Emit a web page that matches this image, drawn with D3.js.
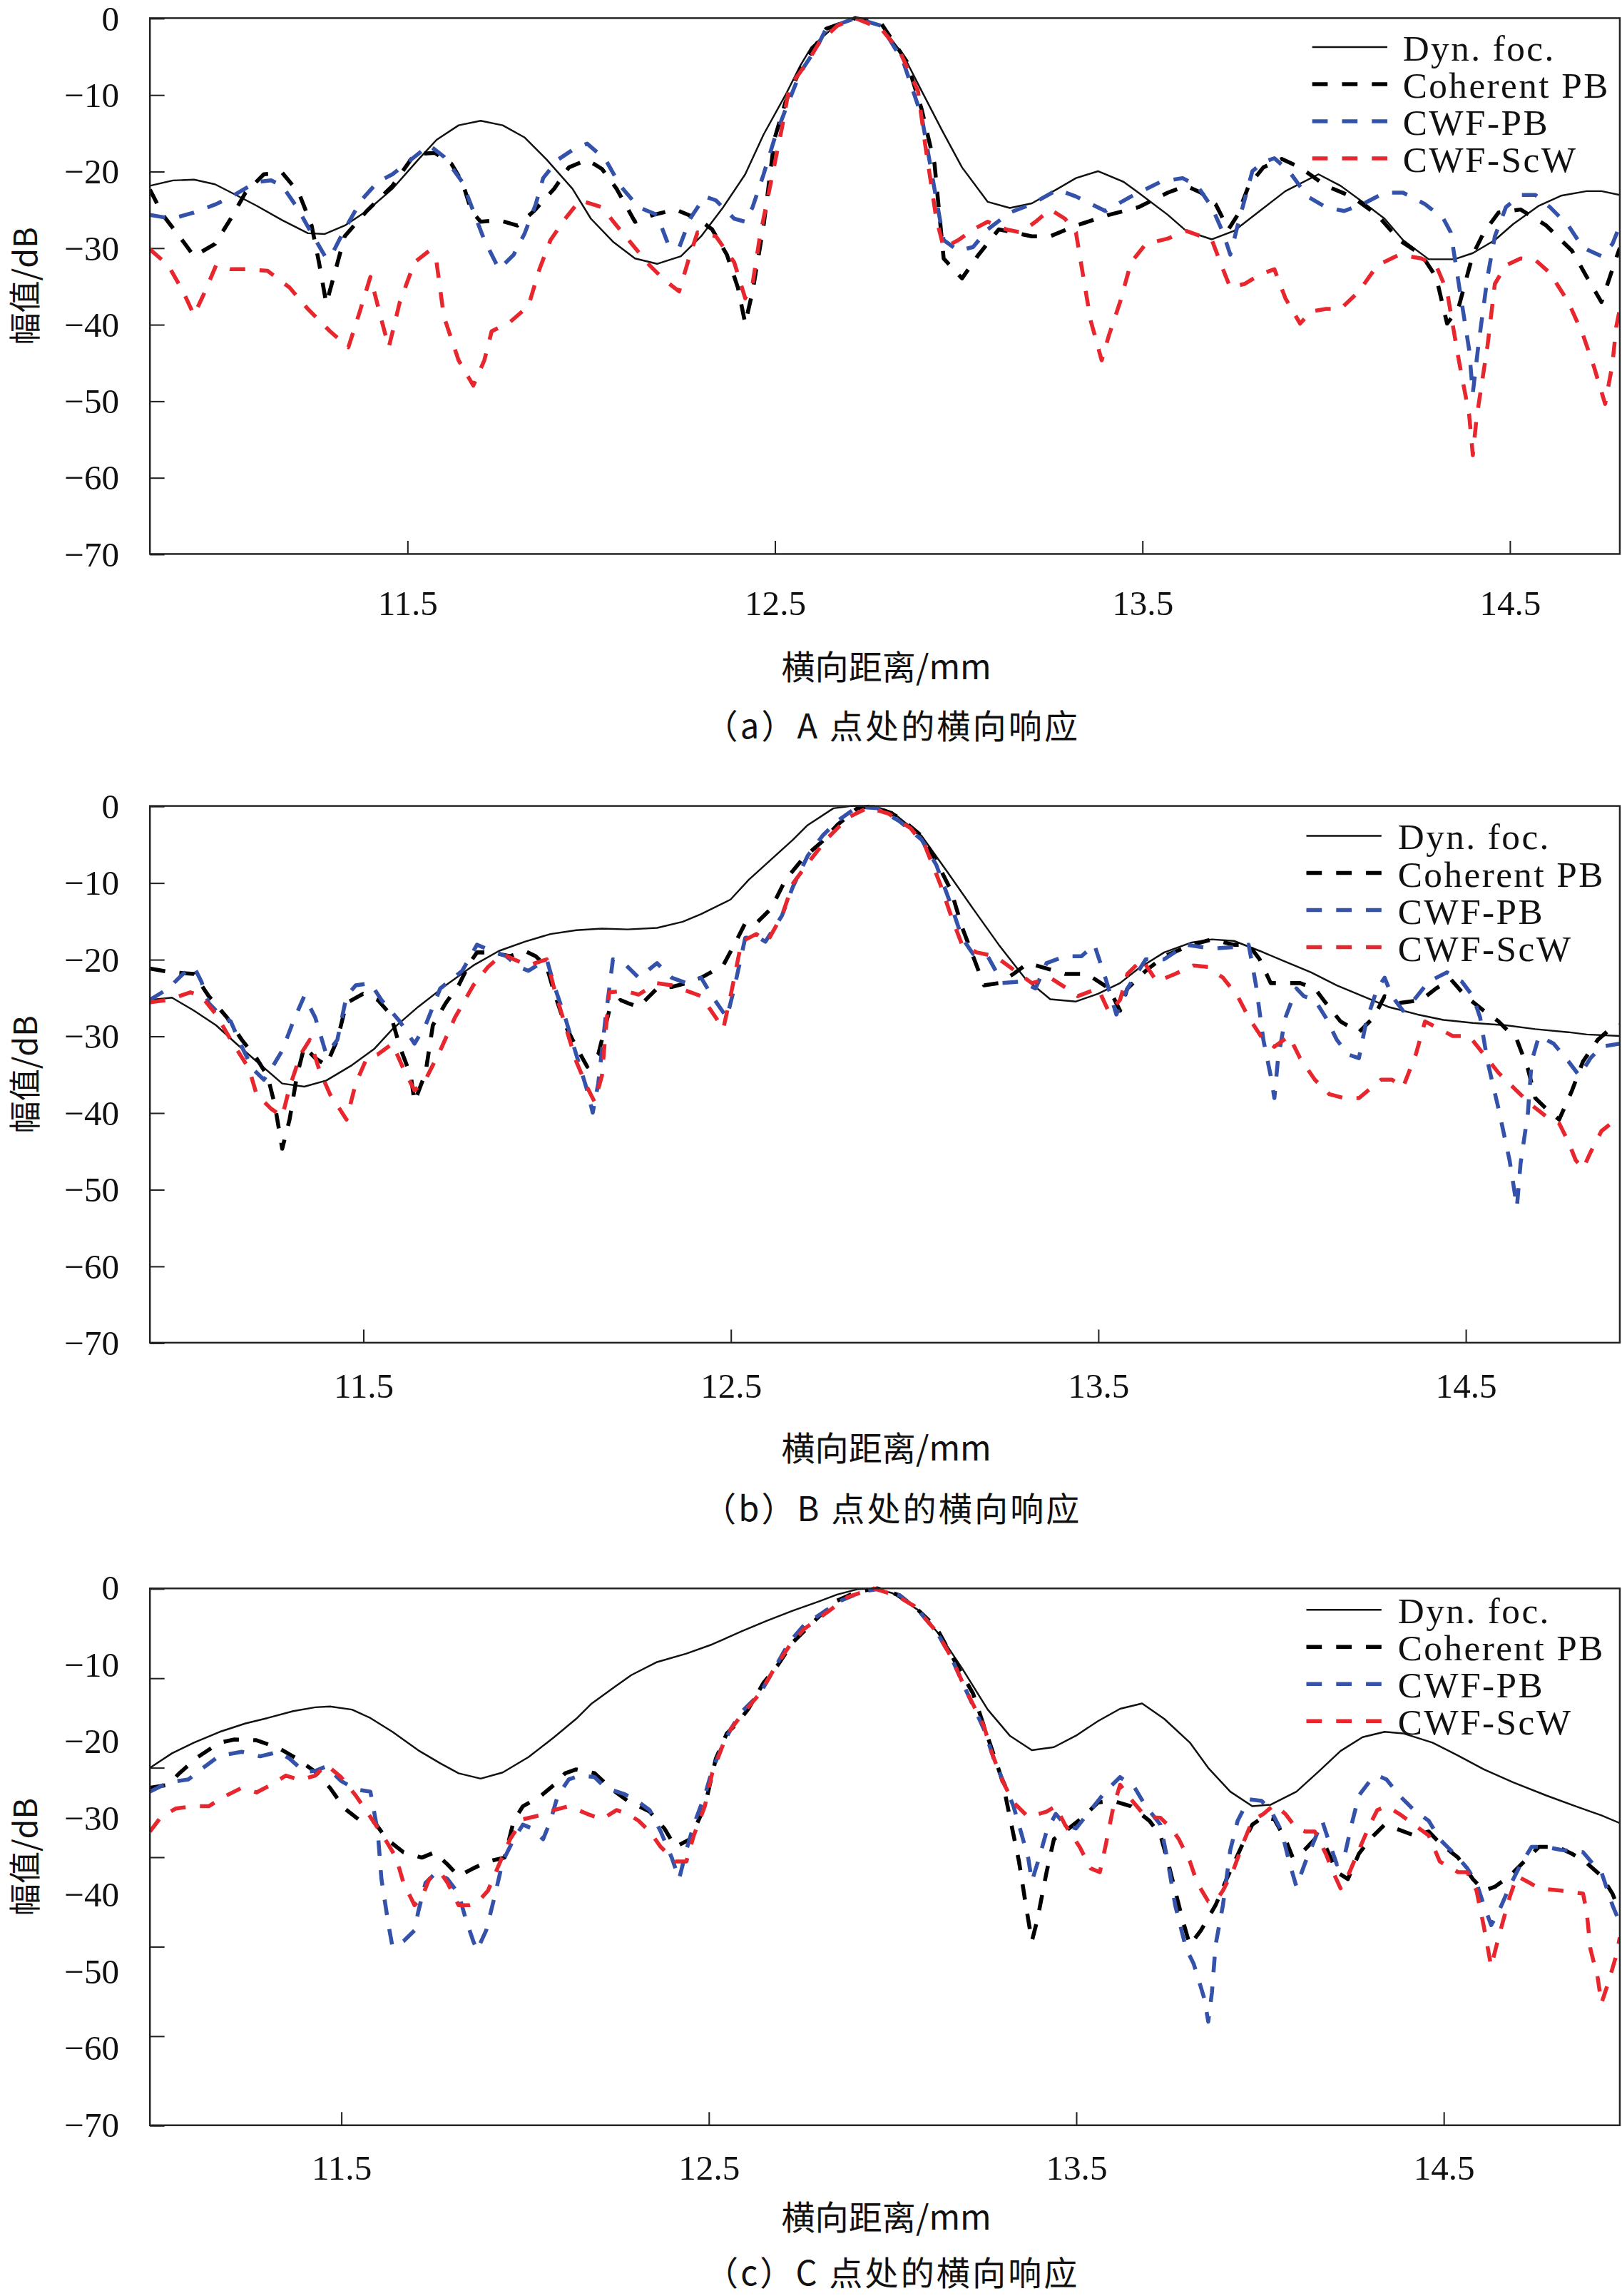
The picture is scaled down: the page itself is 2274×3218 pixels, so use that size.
<!DOCTYPE html>
<html>
<head>
<meta charset="utf-8">
<script src="https://cdn.jsdelivr.net/npm/d3@7"></script>
<style>
  html, body { margin: 0; padding: 0; background: #fff; }
  svg { display: block; }
</style>
</head>
<body>
<svg id="chart"></svg>
<script>
// ---------------- DATA ----------------
const seriesNames = ["Dyn. foc.", "Coherent PB", "CWF-PB", "CWF-ScW"];
const captions = ["（a）A 点处的横向响应", "（b）B 点处的横向响应", "（c）C 点处的横向响应"];
const xTickValues = [11.5, 12.5, 13.5, 14.5];
const yLabelValues = [0, -10, -20, -30, -40, -50, -60, -70];
const xTitle = "横向距离/mm";
const yTitle = "幅值/dB";

// panel (a)
const aDyn = [[10.80,-21.9],[10.863,-21.2],[10.92,-21.1],[10.977,-21.7],[11.034,-23.1],[11.09,-24.5],[11.16,-26.4],[11.23,-28.1],[11.276,-28.2],[11.33,-27.1],[11.39,-25.2],[11.46,-22.3],[11.53,-18.5],[11.58,-15.9],[11.64,-14.0],[11.70,-13.4],[11.76,-14.0],[11.82,-15.6],[11.88,-18.5],[11.95,-22.3],[12.00,-26.2],[12.06,-29.2],[12.12,-31.4],[12.18,-32.1],[12.245,-31.1],[12.30,-28.5],[12.36,-24.7],[12.42,-20.4],[12.47,-15.2],[12.53,-10.0],[12.57,-6.2],[12.60,-3.8],[12.66,-1.2],[12.72,0],[12.79,-1.0],[12.85,-4.8],[12.90,-9.5],[12.956,-14.7],[13.01,-19.5],[13.08,-24.0],[13.14,-24.8],[13.20,-24.2],[13.27,-22.3],[13.32,-20.9],[13.38,-20.0],[13.45,-21.4],[13.49,-22.8],[13.57,-25.7],[13.62,-27.8],[13.69,-28.9],[13.75,-27.8],[13.82,-25.2],[13.89,-22.6],[13.98,-20.4],[14.04,-21.9],[14.10,-24.0],[14.16,-26.2],[14.21,-29.0],[14.28,-31.5],[14.35,-31.5],[14.40,-30.7],[14.46,-29.0],[14.51,-26.9],[14.58,-24.5],[14.64,-23.2],[14.71,-22.6],[14.75,-22.6],[14.80,-23.1]];
const aCoh = [[10.80,-22.4],[10.835,-25.7],[10.88,-28.5],[10.92,-31.1],[10.977,-29.5],[11.02,-26.2],[11.06,-22.8],[11.11,-20.4],[11.16,-20.2],[11.205,-22.8],[11.24,-27.1],[11.26,-31.9],[11.28,-37.3],[11.30,-33.8],[11.33,-28.5],[11.39,-25.2],[11.46,-21.9],[11.52,-17.8],[11.575,-17.6],[11.62,-19.0],[11.65,-21.4],[11.675,-25.2],[11.70,-26.6],[11.75,-26.4],[11.80,-27.1],[11.845,-25.2],[11.90,-22.3],[11.94,-19.5],[11.99,-18.5],[12.03,-19.7],[12.07,-22.3],[12.12,-26.6],[12.17,-25.7],[12.23,-25.0],[12.29,-26.2],[12.33,-27.6],[12.37,-30.9],[12.40,-35.2],[12.42,-39.9],[12.44,-35.7],[12.47,-27.1],[12.50,-15.7],[12.53,-10.9],[12.57,-6.7],[12.615,-3.3],[12.64,-1.4],[12.72,0],[12.79,-0.7],[12.86,-5.7],[12.90,-11.9],[12.935,-19.0],[12.96,-31.4],[13.01,-34.0],[13.055,-30.9],[13.11,-27.6],[13.20,-28.5],[13.25,-28.5],[13.32,-27.1],[13.41,-25.7],[13.49,-24.7],[13.57,-22.8],[13.62,-21.9],[13.66,-22.8],[13.70,-24.3],[13.735,-27.6],[13.76,-25.7],[13.79,-21.9],[13.83,-19.5],[13.88,-18.4],[13.93,-19.5],[14.00,-21.9],[14.07,-23.3],[14.14,-25.7],[14.20,-29.0],[14.26,-30.9],[14.30,-33.8],[14.33,-39.9],[14.36,-38.0],[14.40,-30.9],[14.43,-28.0],[14.47,-25.4],[14.53,-25.0],[14.60,-27.1],[14.67,-30.4],[14.71,-33.8],[14.75,-37.1],[14.78,-32.8],[14.80,-30.0]];
const aPb = [[10.80,-25.7],[10.86,-26.2],[10.92,-25.4],[10.98,-24.3],[11.03,-23.1],[11.09,-21.4],[11.13,-21.2],[11.16,-21.9],[11.20,-24.7],[11.24,-28.1],[11.28,-31.4],[11.30,-30.4],[11.33,-27.6],[11.375,-23.8],[11.42,-21.4],[11.46,-20.4],[11.51,-18.5],[11.56,-16.6],[11.60,-18.1],[11.65,-21.4],[11.68,-25.2],[11.71,-29.0],[11.75,-32.8],[11.79,-30.9],[11.82,-28.1],[11.85,-24.3],[11.87,-20.9],[11.91,-18.5],[11.96,-16.9],[11.99,-16.4],[12.04,-18.5],[12.08,-21.9],[12.13,-24.7],[12.18,-25.7],[12.21,-29.5],[12.24,-30.0],[12.27,-26.2],[12.31,-23.3],[12.34,-23.8],[12.39,-26.2],[12.42,-26.6],[12.44,-24.7],[12.47,-20.4],[12.50,-15.7],[12.53,-11.9],[12.57,-7.1],[12.615,-3.8],[12.64,-1.4],[12.72,0],[12.79,-1.0],[12.85,-5.7],[12.90,-12.8],[12.935,-22.3],[12.96,-29.0],[13.00,-30.4],[13.04,-29.9],[13.08,-27.6],[13.14,-25.4],[13.20,-24.3],[13.27,-22.4],[13.32,-23.3],[13.40,-25.2],[13.47,-23.3],[13.55,-21.4],[13.61,-20.9],[13.65,-21.9],[13.69,-24.7],[13.72,-28.0],[13.74,-30.9],[13.76,-27.1],[13.80,-20.0],[13.83,-18.8],[13.86,-18.3],[13.90,-20.0],[13.95,-23.3],[14.00,-24.7],[14.05,-25.2],[14.10,-24.3],[14.16,-22.8],[14.21,-22.8],[14.27,-24.3],[14.32,-26.2],[14.34,-28.0],[14.365,-35.7],[14.39,-43.3],[14.40,-49.0],[14.415,-42.8],[14.44,-33.8],[14.46,-28.5],[14.49,-24.7],[14.53,-23.1],[14.57,-23.1],[14.61,-24.7],[14.66,-27.1],[14.70,-30.0],[14.75,-31.1],[14.78,-29.5],[14.80,-27.1]];
const aScw = [[10.80,-30.2],[10.85,-32.3],[10.89,-35.7],[10.92,-38.8],[10.95,-35.7],[10.98,-32.3],[11.02,-32.8],[11.06,-32.8],[11.12,-33.0],[11.18,-35.2],[11.23,-38.0],[11.29,-40.9],[11.34,-43.0],[11.37,-38.5],[11.40,-33.8],[11.43,-39.4],[11.45,-43.0],[11.48,-37.1],[11.52,-31.9],[11.56,-30.4],[11.58,-31.9],[11.60,-39.0],[11.64,-44.7],[11.68,-48.0],[11.71,-44.7],[11.73,-40.9],[11.78,-39.7],[11.83,-37.6],[11.86,-32.8],[11.89,-29.0],[11.93,-26.2],[11.97,-23.8],[12.03,-24.7],[12.07,-27.1],[12.12,-30.0],[12.16,-32.3],[12.20,-34.2],[12.24,-35.7],[12.27,-30.9],[12.29,-28.0],[12.34,-28.5],[12.39,-31.9],[12.42,-36.6],[12.44,-34.7],[12.46,-28.5],[12.49,-21.4],[12.52,-14.3],[12.54,-9.0],[12.59,-5.7],[12.62,-3.3],[12.67,-1.0],[12.72,0],[12.79,-1.4],[12.84,-4.3],[12.89,-9.5],[12.91,-16.6],[12.94,-26.2],[12.96,-30.0],[13.00,-29.0],[13.04,-27.6],[13.08,-26.6],[13.13,-27.6],[13.17,-28.0],[13.21,-26.6],[13.25,-25.0],[13.29,-26.2],[13.32,-28.0],[13.34,-33.8],[13.36,-39.5],[13.39,-44.7],[13.41,-41.4],[13.44,-37.1],[13.47,-31.9],[13.51,-29.5],[13.57,-28.8],[13.62,-27.8],[13.69,-29.0],[13.72,-32.8],[13.74,-35.2],[13.78,-34.7],[13.82,-33.5],[13.86,-32.8],[13.89,-36.6],[13.93,-39.9],[13.96,-38.3],[14.00,-38.0],[14.04,-38.0],[14.09,-35.7],[14.14,-32.3],[14.20,-30.9],[14.26,-31.4],[14.30,-32.3],[14.33,-35.7],[14.36,-44.2],[14.39,-51.8],[14.40,-57.1],[14.41,-52.3],[14.44,-42.8],[14.46,-34.7],[14.49,-32.3],[14.53,-31.4],[14.57,-31.6],[14.61,-33.3],[14.66,-37.1],[14.70,-41.4],[14.73,-45.6],[14.76,-50.4],[14.78,-45.2],[14.79,-40.4],[14.80,-38.0]];

// panel (b)
const bDyn = [[10.92,-25.3],[10.98,-25.0],[11.04,-26.7],[11.10,-28.6],[11.155,-31.0],[11.21,-33.3],[11.28,-36.2],[11.34,-36.6],[11.40,-35.8],[11.47,-33.8],[11.53,-31.7],[11.58,-29.1],[11.65,-26.2],[11.725,-23.4],[11.80,-20.8],[11.87,-18.9],[11.94,-17.7],[12.01,-16.7],[12.08,-16.2],[12.15,-16.0],[12.22,-16.1],[12.30,-15.9],[12.37,-15.1],[12.42,-14.1],[12.50,-12.2],[12.55,-9.6],[12.61,-7.0],[12.67,-4.4],[12.71,-2.5],[12.78,-0.3],[12.83,0],[12.89,0],[12.94,-0.8],[13.02,-3.9],[13.09,-8.6],[13.16,-13.4],[13.23,-18.1],[13.30,-22.4],[13.37,-25.2],[13.44,-25.5],[13.50,-24.5],[13.56,-23.1],[13.61,-21.2],[13.68,-19.1],[13.755,-17.8],[13.81,-17.4],[13.87,-17.6],[13.94,-18.9],[14.01,-20.3],[14.08,-21.7],[14.15,-23.4],[14.22,-24.8],[14.29,-26.2],[14.37,-27.2],[14.44,-27.9],[14.52,-28.3],[14.61,-28.6],[14.69,-29.1],[14.78,-29.5],[14.83,-29.8],[14.92,-30.0]];
const bCoh = [[10.92,-21.2],[10.98,-21.7],[11.04,-21.9],[11.08,-24.8],[11.13,-27.6],[11.17,-30.5],[11.21,-32.9],[11.24,-35.2],[11.26,-39.0],[11.28,-44.7],[11.30,-40.9],[11.32,-35.2],[11.34,-31.4],[11.37,-32.9],[11.40,-33.8],[11.43,-30.5],[11.455,-25.7],[11.50,-24.5],[11.54,-25.3],[11.575,-27.2],[11.60,-31.4],[11.63,-35.2],[11.64,-38.6],[11.67,-34.8],[11.69,-28.6],[11.725,-25.7],[11.76,-23.4],[11.79,-20.5],[11.81,-19.1],[11.85,-19.1],[11.90,-19.6],[11.94,-18.9],[11.97,-19.6],[12.00,-21.0],[12.02,-24.3],[12.05,-28.6],[12.08,-31.4],[12.11,-34.0],[12.14,-32.4],[12.17,-26.7],[12.20,-25.3],[12.22,-25.7],[12.25,-26.2],[12.30,-23.8],[12.34,-23.6],[12.38,-23.1],[12.42,-22.4],[12.48,-20.8],[12.51,-18.1],[12.54,-15.3],[12.57,-15.3],[12.61,-13.4],[12.65,-9.6],[12.70,-6.7],[12.75,-4.6],[12.79,-2.5],[12.845,-0.3],[12.89,0],[12.96,-1.5],[13.02,-3.9],[13.06,-7.2],[13.10,-11.0],[13.13,-15.8],[13.16,-19.6],[13.19,-23.4],[13.23,-23.1],[13.27,-21.9],[13.31,-20.5],[13.36,-21.2],[13.41,-21.9],[13.47,-21.9],[13.53,-23.8],[13.56,-26.7],[13.58,-23.8],[13.63,-21.5],[13.68,-19.6],[13.755,-18.1],[13.81,-17.4],[13.87,-18.1],[13.91,-18.1],[13.94,-20.0],[13.97,-23.1],[14.01,-23.1],[14.05,-23.1],[14.09,-23.8],[14.12,-25.7],[14.16,-28.1],[14.21,-29.5],[14.25,-27.6],[14.28,-24.8],[14.32,-25.7],[14.38,-25.3],[14.42,-23.8],[14.46,-22.6],[14.50,-24.8],[14.55,-26.7],[14.59,-28.1],[14.64,-30.5],[14.67,-34.3],[14.69,-38.1],[14.72,-39.5],[14.755,-40.9],[14.79,-37.1],[14.82,-33.3],[14.86,-30.5],[14.90,-28.8],[14.92,-28.6]];
const bPb = [[10.92,-25.3],[10.97,-23.8],[11.01,-21.9],[11.04,-21.0],[11.06,-22.9],[11.08,-25.7],[11.11,-27.2],[11.14,-28.1],[11.17,-31.4],[11.20,-34.3],[11.23,-35.7],[11.25,-34.3],[11.28,-31.9],[11.31,-28.1],[11.34,-24.8],[11.37,-27.6],[11.40,-32.4],[11.43,-30.5],[11.455,-24.8],[11.48,-23.4],[11.52,-23.1],[11.55,-25.3],[11.60,-28.1],[11.64,-31.0],[11.67,-28.6],[11.71,-23.8],[11.77,-21.5],[11.81,-18.1],[11.85,-18.9],[11.89,-19.6],[11.925,-21.0],[11.95,-21.5],[12.00,-20.0],[12.02,-23.4],[12.05,-27.6],[12.08,-32.4],[12.11,-37.1],[12.125,-40.0],[12.14,-36.2],[12.16,-27.6],[12.18,-20.0],[12.21,-20.5],[12.25,-22.4],[12.30,-20.5],[12.34,-22.4],[12.38,-23.1],[12.42,-22.4],[12.45,-24.8],[12.49,-27.6],[12.51,-23.8],[12.54,-17.2],[12.57,-17.0],[12.595,-17.7],[12.64,-14.3],[12.67,-10.5],[12.71,-6.5],[12.75,-3.9],[12.79,-2.0],[12.845,-0.1],[12.90,-0.3],[12.96,-2.0],[13.02,-4.4],[13.06,-7.7],[13.10,-12.9],[13.13,-17.2],[13.16,-19.3],[13.20,-19.6],[13.24,-23.1],[13.29,-22.9],[13.33,-23.8],[13.36,-20.5],[13.41,-19.6],[13.455,-19.6],[13.49,-18.1],[13.52,-22.4],[13.55,-27.2],[13.58,-23.8],[13.63,-20.0],[13.68,-20.0],[13.74,-18.1],[13.81,-18.6],[13.87,-18.4],[13.91,-18.1],[13.93,-23.4],[13.95,-30.5],[13.97,-35.2],[13.98,-38.1],[13.99,-32.9],[14.01,-27.6],[14.04,-23.8],[14.06,-24.8],[14.09,-25.3],[14.12,-27.6],[14.15,-30.5],[14.18,-32.4],[14.21,-32.9],[14.23,-28.1],[14.26,-23.8],[14.28,-22.4],[14.30,-24.8],[14.33,-26.7],[14.36,-25.3],[14.40,-22.9],[14.45,-21.7],[14.49,-22.9],[14.52,-24.8],[14.54,-27.6],[14.56,-33.3],[14.59,-39.5],[14.62,-46.2],[14.64,-52.3],[14.65,-46.6],[14.67,-40.0],[14.68,-33.3],[14.70,-30.0],[14.74,-31.0],[14.78,-33.3],[14.81,-35.2],[14.84,-32.9],[14.87,-31.4],[14.92,-31.0]];
const bScw = [[10.92,-25.6],[10.97,-25.3],[11.03,-24.3],[11.06,-24.8],[11.10,-27.2],[11.14,-30.5],[11.19,-34.3],[11.21,-37.6],[11.25,-39.5],[11.28,-40.5],[11.30,-36.7],[11.33,-32.4],[11.355,-30.5],[11.38,-34.3],[11.41,-37.6],[11.455,-40.9],[11.48,-36.2],[11.51,-32.9],[11.54,-32.4],[11.58,-31.0],[11.61,-34.3],[11.64,-37.1],[11.67,-35.7],[11.71,-31.9],[11.75,-27.6],[11.80,-23.4],[11.84,-21.0],[11.88,-19.3],[11.91,-20.0],[11.95,-20.8],[12.00,-20.0],[12.02,-23.8],[12.05,-28.6],[12.08,-33.3],[12.11,-36.7],[12.13,-38.6],[12.15,-35.2],[12.16,-29.5],[12.17,-24.3],[12.21,-24.1],[12.25,-24.6],[12.30,-23.1],[12.34,-23.4],[12.38,-24.1],[12.42,-24.8],[12.46,-27.6],[12.48,-29.1],[12.50,-24.8],[12.53,-17.7],[12.57,-16.7],[12.60,-17.7],[12.64,-14.3],[12.67,-10.1],[12.71,-7.5],[12.76,-4.4],[12.82,-1.5],[12.875,-0.2],[12.93,-1.0],[12.99,-2.9],[13.03,-5.3],[13.07,-10.1],[13.10,-14.3],[13.13,-18.1],[13.17,-19.1],[13.22,-19.6],[13.26,-21.0],[13.32,-23.1],[13.37,-22.4],[13.415,-23.8],[13.445,-24.8],[13.50,-23.8],[13.53,-26.9],[13.56,-25.3],[13.58,-21.9],[13.62,-20.0],[13.66,-22.9],[13.71,-21.9],[13.76,-20.8],[13.80,-21.0],[13.84,-22.4],[13.88,-24.8],[13.91,-27.6],[13.95,-30.5],[13.98,-31.4],[14.02,-30.0],[14.05,-32.9],[14.09,-35.7],[14.13,-37.6],[14.17,-38.1],[14.21,-38.1],[14.27,-35.7],[14.30,-35.7],[14.33,-36.7],[14.365,-32.4],[14.39,-28.1],[14.43,-29.1],[14.465,-30.0],[14.51,-30.0],[14.55,-32.4],[14.59,-34.8],[14.63,-36.7],[14.68,-39.0],[14.72,-40.5],[14.755,-41.4],[14.78,-43.8],[14.80,-46.2],[14.82,-47.3],[14.84,-45.2],[14.87,-42.4],[14.92,-40.5]];

// panel (c)
const cDyn = [[10.98,-23.4],[11.04,-21.5],[11.10,-20.1],[11.17,-18.7],[11.24,-17.6],[11.30,-16.9],[11.37,-16.0],[11.43,-15.5],[11.47,-15.4],[11.53,-15.8],[11.58,-16.9],[11.64,-18.7],[11.71,-21.1],[11.77,-22.8],[11.82,-24.1],[11.88,-24.8],[11.94,-24.0],[12.01,-22.0],[12.08,-19.4],[12.14,-17.0],[12.18,-15.1],[12.24,-13.0],[12.29,-11.3],[12.36,-9.6],[12.44,-8.5],[12.51,-7.3],[12.59,-5.6],[12.66,-4.2],[12.73,-2.9],[12.80,-1.7],[12.85,-0.8],[12.906,-0.1],[12.95,0],[13.00,-0.6],[13.07,-2.8],[13.13,-6.1],[13.19,-10.4],[13.26,-15.8],[13.32,-19.2],[13.38,-21.1],[13.44,-20.7],[13.50,-19.2],[13.56,-17.3],[13.62,-15.7],[13.68,-15.0],[13.74,-17.0],[13.81,-20.1],[13.86,-23.4],[13.92,-26.5],[13.98,-28.4],[14.03,-28.2],[14.10,-26.5],[14.16,-23.9],[14.22,-21.2],[14.28,-19.4],[14.34,-18.7],[14.39,-18.9],[14.47,-20.1],[14.54,-21.8],[14.61,-23.6],[14.69,-25.3],[14.78,-27.0],[14.86,-28.4],[14.93,-29.6],[14.98,-30.6]];
const cCoh = [[10.98,-26.0],[11.03,-25.6],[11.06,-24.1],[11.11,-22.0],[11.17,-20.1],[11.21,-19.7],[11.27,-19.8],[11.33,-20.8],[11.38,-22.2],[11.43,-23.9],[11.47,-26.0],[11.51,-28.7],[11.55,-30.2],[11.59,-30.4],[11.625,-32.7],[11.67,-34.4],[11.72,-35.1],[11.755,-34.4],[11.79,-36.0],[11.82,-37.5],[11.86,-36.5],[11.90,-35.6],[11.945,-35.1],[11.97,-30.3],[11.995,-28.4],[12.04,-27.2],[12.08,-25.6],[12.11,-24.1],[12.14,-23.6],[12.19,-24.1],[12.24,-26.3],[12.28,-27.7],[12.34,-29.1],[12.38,-31.3],[12.41,-33.7],[12.45,-32.7],[12.49,-28.4],[12.52,-22.2],[12.55,-18.9],[12.58,-17.5],[12.61,-15.6],[12.65,-12.3],[12.69,-9.9],[12.73,-7.0],[12.80,-3.7],[12.85,-1.6],[12.906,-0.4],[12.96,0],[13.02,-0.9],[13.07,-2.8],[13.12,-5.1],[13.175,-9.9],[13.22,-13.7],[13.25,-18.0],[13.28,-22.2],[13.30,-25.1],[13.32,-29.8],[13.345,-35.6],[13.365,-41.7],[13.38,-46.0],[13.395,-43.2],[13.42,-37.0],[13.44,-32.7],[13.47,-31.7],[13.52,-29.8],[13.56,-27.9],[13.60,-27.7],[13.65,-28.4],[13.70,-30.3],[13.73,-32.2],[13.75,-35.6],[13.77,-39.4],[13.79,-43.2],[13.81,-46.5],[13.84,-44.6],[13.88,-41.3],[13.91,-37.9],[13.95,-33.7],[13.98,-30.8],[14.01,-29.8],[14.04,-30.1],[14.07,-32.7],[14.09,-35.1],[14.12,-34.2],[14.15,-32.7],[14.18,-33.7],[14.21,-37.0],[14.24,-37.9],[14.27,-34.6],[14.30,-32.7],[14.34,-30.8],[14.37,-31.3],[14.42,-32.2],[14.46,-31.7],[14.49,-33.2],[14.54,-35.1],[14.58,-37.9],[14.61,-39.4],[14.64,-38.9],[14.68,-37.5],[14.72,-35.6],[14.76,-33.7],[14.81,-33.7],[14.85,-34.6],[14.89,-35.8],[14.93,-37.5],[14.96,-39.8],[14.98,-42.2]];
const cPb = [[10.98,-26.5],[11.03,-25.3],[11.085,-24.9],[11.13,-23.2],[11.17,-21.8],[11.23,-21.3],[11.28,-21.9],[11.33,-21.3],[11.36,-22.2],[11.40,-23.9],[11.43,-23.8],[11.46,-23.2],[11.50,-25.1],[11.54,-26.2],[11.58,-26.5],[11.60,-31.7],[11.61,-37.9],[11.63,-44.1],[11.64,-46.7],[11.67,-46.0],[11.70,-44.6],[11.71,-42.2],[11.73,-38.4],[11.76,-37.0],[11.79,-37.9],[11.82,-39.8],[11.84,-43.2],[11.86,-46.0],[11.87,-47.2],[11.895,-44.6],[11.92,-39.8],[11.94,-35.6],[11.97,-32.7],[11.995,-30.8],[12.02,-31.3],[12.05,-32.7],[12.07,-30.3],[12.09,-27.0],[12.12,-24.9],[12.15,-24.4],[12.19,-24.6],[12.22,-26.0],[12.27,-26.8],[12.30,-27.5],[12.34,-28.9],[12.37,-31.7],[12.40,-35.1],[12.42,-37.9],[12.44,-34.1],[12.46,-30.8],[12.49,-27.0],[12.51,-23.7],[12.54,-20.3],[12.56,-18.4],[12.59,-16.1],[12.64,-13.7],[12.68,-10.4],[12.72,-7.0],[12.76,-4.8],[12.81,-3.2],[12.86,-1.6],[12.92,-0.4],[12.96,-0.1],[13.02,-0.9],[13.07,-2.8],[13.12,-5.6],[13.16,-8.9],[13.20,-13.2],[13.25,-18.4],[13.28,-22.7],[13.31,-26.0],[13.33,-28.4],[13.35,-31.7],[13.37,-35.1],[13.38,-38.2],[13.40,-35.1],[13.42,-31.7],[13.445,-29.4],[13.47,-30.8],[13.50,-31.3],[13.54,-28.9],[13.58,-26.5],[13.62,-24.6],[13.66,-26.0],[13.69,-28.4],[13.73,-30.8],[13.75,-35.6],[13.77,-41.3],[13.80,-47.0],[13.82,-48.9],[13.835,-51.2],[13.85,-53.6],[13.86,-56.5],[13.87,-52.7],[13.88,-46.5],[13.90,-41.3],[13.92,-34.1],[13.94,-30.3],[13.97,-27.5],[14.005,-27.7],[14.03,-28.9],[14.06,-31.7],[14.08,-35.6],[14.10,-38.9],[14.125,-35.6],[14.15,-32.7],[14.17,-30.3],[14.19,-33.2],[14.21,-36.0],[14.23,-35.1],[14.25,-30.8],[14.27,-27.0],[14.30,-25.1],[14.32,-24.4],[14.345,-24.9],[14.38,-27.0],[14.42,-28.9],[14.46,-30.3],[14.49,-32.7],[14.54,-35.1],[14.565,-36.5],[14.59,-38.4],[14.61,-41.3],[14.63,-43.9],[14.65,-42.2],[14.68,-38.9],[14.71,-36.0],[14.74,-33.7],[14.78,-33.7],[14.82,-34.1],[14.88,-34.4],[14.905,-35.8],[14.93,-37.0],[14.96,-41.3],[14.98,-43.6]];
const cScw = [[10.98,-31.7],[11.01,-29.8],[11.05,-28.7],[11.10,-28.4],[11.14,-28.4],[11.18,-27.2],[11.23,-26.0],[11.27,-26.6],[11.31,-25.6],[11.35,-24.4],[11.39,-25.0],[11.43,-24.4],[11.46,-23.0],[11.50,-24.6],[11.54,-27.0],[11.58,-29.8],[11.62,-32.7],[11.65,-35.1],[11.67,-38.4],[11.70,-41.3],[11.72,-40.3],[11.74,-37.9],[11.77,-37.0],[11.79,-38.4],[11.82,-41.3],[11.85,-41.3],[11.87,-41.0],[11.90,-39.4],[11.93,-36.0],[11.96,-32.7],[11.995,-30.1],[12.04,-29.6],[12.08,-28.9],[12.12,-28.4],[12.17,-29.4],[12.21,-30.1],[12.25,-28.9],[12.28,-29.4],[12.31,-30.3],[12.34,-31.7],[12.37,-33.7],[12.41,-35.6],[12.44,-35.6],[12.46,-32.2],[12.49,-28.4],[12.51,-24.1],[12.54,-20.3],[12.56,-18.4],[12.59,-16.5],[12.64,-13.7],[12.68,-10.4],[12.72,-7.5],[12.76,-5.3],[12.82,-3.2],[12.88,-1.1],[12.95,0],[13.01,-0.9],[13.06,-2.3],[13.12,-5.6],[13.16,-8.9],[13.20,-13.2],[13.25,-18.0],[13.27,-21.3],[13.30,-25.1],[13.33,-27.9],[13.37,-29.8],[13.42,-29.1],[13.445,-28.4],[13.47,-30.8],[13.51,-33.7],[13.54,-36.5],[13.565,-37.0],[13.58,-33.7],[13.60,-28.9],[13.62,-25.6],[13.65,-27.5],[13.69,-29.8],[13.73,-29.9],[13.76,-31.3],[13.78,-32.7],[13.81,-35.6],[13.83,-38.4],[13.86,-40.8],[13.88,-40.8],[13.90,-39.4],[13.93,-36.5],[13.955,-33.2],[13.98,-30.3],[14.01,-29.4],[14.04,-28.2],[14.07,-29.4],[14.10,-31.3],[14.125,-31.7],[14.15,-31.7],[14.18,-34.6],[14.20,-37.0],[14.22,-39.1],[14.24,-37.5],[14.27,-34.1],[14.30,-30.8],[14.32,-28.9],[14.345,-28.4],[14.38,-29.4],[14.42,-30.8],[14.46,-32.2],[14.49,-35.6],[14.54,-37.0],[14.565,-37.0],[14.59,-39.4],[14.61,-44.1],[14.63,-49.3],[14.65,-45.5],[14.68,-40.3],[14.70,-37.5],[14.735,-38.4],[14.76,-39.1],[14.82,-39.4],[14.88,-39.8],[14.89,-42.2],[14.90,-47.0],[14.92,-50.8],[14.93,-54.1],[14.95,-51.2],[14.97,-47.9],[14.98,-45.5]];

const xDomains = [[10.80, 14.80], [10.92, 14.92], [10.98, 14.98]];

// ---------------- LAYOUT / STYLE ----------------
const VW = 1110, VH = 3218 * 1110 / 2274;
const svg = d3.select("#chart")
  .attr("width", 2274).attr("height", 3218)
  .attr("viewBox", `0 0 ${VW} ${VH}`);
svg.append("rect").attr("width", VW).attr("height", VH).attr("fill", "#fff");

const serif = "'Liberation Serif','Times New Roman',serif";
const cjk = "'Noto Sans CJK SC','Noto Sans',sans-serif";
const styles = [
  { color: "#111", dash: null, width: 1.2 },
  { color: "#000", dash: "10.6,9.8", width: 2.7 },
  { color: "#3452aa", dash: "10.6,9.8", width: 2.7 },
  { color: "#e8262e", dash: "10.6,9.8", width: 2.7 }
];
const plotLeft = 102.6, plotRight = 1108.5;
const panels = [
  { data: [aDyn, aCoh, aPb, aScw], top: 12.4, bottom: 379, tickBase: 420.6, titleBase: 464.6, capBase: 505.2, legX: 898, legY: 32.2, textX: 960, oddTicks: false },
  { data: [bDyn, bCoh, bPb, bScw], top: 551.4, bottom: 918.6, tickBase: 956.4, titleBase: 999.1, capBase: 1040.6, legX: 894, legY: 571.8, textX: 956.6, oddTicks: false },
  { data: [cDyn, cCoh, cPb, cScw], top: 1086.7, bottom: 1454, tickBase: 1491.3, titleBase: 1525.4, capBase: 1563.5, legX: 894, legY: 1101.3, textX: 956.6, oddTicks: true }
];
const fmtY = d => d === 0 ? "0" : "\u2212" + Math.abs(d);

panels.forEach((p, i) => {
  const g = svg.append("g");
  const x = d3.scaleLinear().domain(xDomains[i]).range([plotLeft, plotRight]);
  const y = d3.scaleLinear().domain([-70, 0]).range([p.bottom, p.top]);

  const clipId = "clip" + i;
  svg.append("clipPath").attr("id", clipId).append("rect")
    .attr("x", plotLeft).attr("y", p.top - 2)
    .attr("width", plotRight - plotLeft).attr("height", p.bottom - p.top + 2);

  // y axis
  if (!p.oddTicks) {
    const ya = g.append("g").attr("transform", `translate(${plotLeft},0)`)
      .call(d3.axisLeft(y).tickValues(yLabelValues).tickSize(-10).tickPadding(21).tickFormat(fmtY));
    ya.select(".domain").remove();
    ya.selectAll("line").attr("stroke", "#222").attr("stroke-width", 1);
    ya.selectAll("text").attr("font-family", serif).attr("font-size", 24).attr("fill", "#111")
      .attr("dy", "0.33em");
  } else {
    // panel (c): tick marks divide the axis in six, labels in seven
    const tickVals = d3.range(7).map(k => -70 * k / 6);
    const ya = g.append("g").attr("transform", `translate(${plotLeft},0)`)
      .call(d3.axisLeft(y).tickValues(tickVals).tickSize(-10).tickFormat(""));
    ya.select(".domain").remove();
    ya.selectAll("line").attr("stroke", "#222").attr("stroke-width", 1);
    g.append("g").selectAll("text").data(yLabelValues).join("text")
      .attr("x", plotLeft - 21).attr("y", d => y(d)).attr("dy", "0.33em")
      .attr("text-anchor", "end").attr("font-family", serif).attr("font-size", 24).attr("fill", "#111")
      .text(fmtY);
  }

  // x axis
  const xa = g.append("g").attr("transform", `translate(0,${p.bottom})`)
    .call(d3.axisBottom(x).tickValues(xTickValues).tickSize(-9).tickFormat(d3.format(".1f")));
  xa.select(".domain").remove();
  xa.selectAll("line").attr("stroke", "#222").attr("stroke-width", 1);
  xa.selectAll("text").attr("font-family", serif).attr("font-size", 24).attr("fill", "#111")
    .attr("dy", null).attr("y", p.tickBase - p.bottom);

  // lines
  const line = d3.line().x(d => x(d[0])).y(d => y(d[1]));
  const lg = g.append("g").attr("clip-path", `url(#${clipId})`);
  p.data.forEach((ser, k) => {
    const st = styles[k];
    lg.append("path").datum(ser).attr("d", line)
      .attr("fill", "none").attr("stroke", st.color).attr("stroke-width", st.width)
      .attr("stroke-dasharray", st.dash).attr("stroke-linejoin", "round");
  });

  // frame
  g.append("rect").attr("x", plotLeft).attr("y", p.top)
    .attr("width", plotRight - plotLeft).attr("height", p.bottom - p.top)
    .attr("fill", "none").attr("stroke", "#222").attr("stroke-width", 1.2);

  // legend
  const leg = g.append("g");
  seriesNames.forEach((name, k) => {
    const st = styles[k];
    const ly = p.legY + k * 25.4;
    leg.append("line").attr("x1", p.legX).attr("x2", p.legX + 51.4)
      .attr("y1", ly).attr("y2", ly)
      .attr("stroke", st.color).attr("stroke-width", k === 0 ? 1.2 : 2.7)
      .attr("stroke-dasharray", st.dash);
    leg.append("text").attr("x", p.textX).attr("y", ly + 9.3)
      .attr("font-family", serif).attr("font-size", 25).attr("letter-spacing", 1.2)
      .attr("fill", "#111").text(name);
  });

  // titles
  const cx = (plotLeft + plotRight) / 2;
  g.append("text").attr("x", cx + 1).attr("y", p.titleBase).attr("text-anchor", "middle")
    .attr("font-family", cjk).attr("font-size", 23).attr("fill", "#111").text(xTitle);
  g.append("text").attr("x", cx + 5).attr("y", p.capBase).attr("text-anchor", "middle")
    .attr("font-family", cjk).attr("font-size", 23).attr("letter-spacing", 1.5).attr("fill", "#111")
    .text(captions[i]);
  g.append("text").attr("transform", `translate(16,${(p.top + p.bottom) / 2}) rotate(-90)`)
    .attr("text-anchor", "middle").attr("dominant-baseline", "central")
    .attr("font-family", cjk).attr("font-size", 22).attr("fill", "#111").text(yTitle);
});
</script>
</body>
</html>
